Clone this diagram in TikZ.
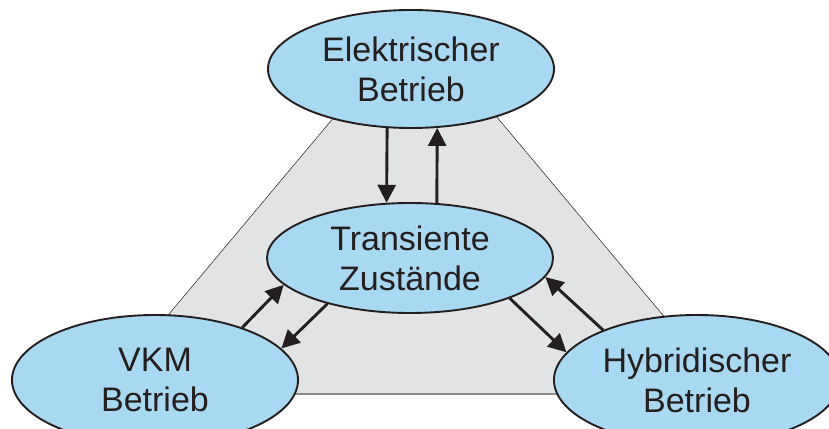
\documentclass[tikz,border=0pt]{standalone}
\usepackage{fontspec}
\setmainfont{Liberation Sans}
\usetikzlibrary{shapes.geometric,arrows.meta}
\definecolor{ellblue}{HTML}{A8D8F2}
\definecolor{bggray}{HTML}{E2E3E5}
\definecolor{edgegray}{HTML}{8C8C8E}
\definecolor{ink}{HTML}{231F20}
\tikzset{
  zustand/.style={ellipse, draw=ink, line width=1.9pt, fill=ellblue, inner sep=0pt,
    align=center, text=ink, font=\fontsize{34}{40}\selectfont},
  pfeil/.style={draw=ink, line width=2.9pt, -{Triangle[length=18pt,width=18pt]}},
}
\begin{document}
\begin{tikzpicture}[x=1pt,y=1pt]
\useasboundingbox (0,0) rectangle (829,428);
% gray triangle background
\fill[bggray] (340,318) -- (491,318) -- (729,34) -- (102,34) -- cycle;
\draw[ink, line width=0.5pt] (340,318) -- (102,34);
\draw[ink, line width=0.5pt] (491,318) -- (729,34);
\draw[edgegray, line width=1.6pt] (102,34) -- (729,34);
% nodes
\node[zustand, minimum width=286pt, minimum height=118pt] (E) at (411,359) {Elektrischer\\Betrieb};
\node[zustand, minimum width=286pt, minimum height=110pt] (T) at (410,170) {Transiente\\Zustände};
\node[zustand, minimum width=286pt, minimum height=130pt] (V) at (155,48) {VKM\\Betrieb};
\node[zustand, minimum width=286pt, minimum height=130pt] (H) at (697,48) {Hybridischer\\Betrieb};
% arrows
\draw[pfeil] (E.-112.4) -- (T.113);
\draw[pfeil] (T.64.3) -- (E.-66.8);
\draw[pfeil] (V.31.4) -- (T.-168.3);
\draw[pfeil] (T.-151.9) -- (V.14.5);
\draw[pfeil] (T.-22.6) -- (H.168.2);
\draw[pfeil] (H.152.7) -- (T.-8.2);
\end{tikzpicture}
\end{document}
